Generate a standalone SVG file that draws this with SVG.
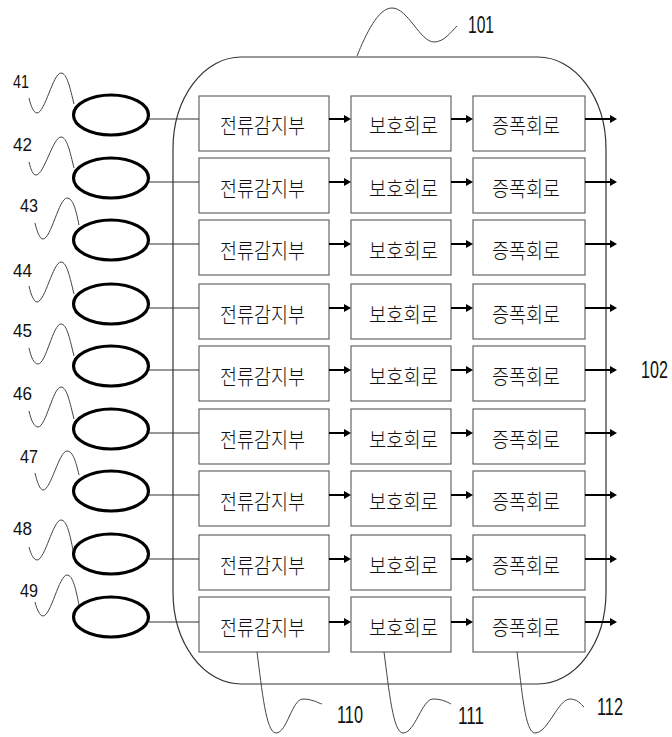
<svg xmlns="http://www.w3.org/2000/svg" width="672" height="737" viewBox="0 0 672 737">
<style>
.bg{fill:#fff}
.cont{fill:none;stroke:#333;stroke-width:1.2}
.box{fill:#fff;stroke:#666;stroke-width:1.2}
.sen{fill:none;stroke:#000;stroke-width:3.2}
.wire{fill:none;stroke:#333;stroke-width:1.2}
.arr{fill:none;stroke:#000;stroke-width:2;marker-end:url(#ah)}
.lead{fill:none;stroke:#444;stroke-width:1}
.kr{font-family:"Noto Sans CJK KR","Noto Sans CJK SC",sans-serif;font-size:21px;font-weight:300;fill:#111}
.num{font-family:"Liberation Sans",Arial,sans-serif;font-size:19px;fill:#111}
.big{font-family:"Liberation Sans",Arial,sans-serif;font-size:23px;fill:#111}
</style>
<defs>
<marker id="ah" markerUnits="userSpaceOnUse" markerWidth="8" markerHeight="10" refX="0" refY="5" orient="auto">
<path d="M0,1 L7,5 L0,9 Z" fill="#000"/>
</marker>
</defs>
<rect class="bg" x="0" y="0" width="672" height="737"/>

<g id="n101">
<rect class="cont" x="173" y="57" width="433" height="627" rx="68" ry="92"/>
<path class="lead" d="M357,56 C366,34 378,8 392,8 C408,8 420,42 434,42 C444,42 451,32 457,26"/>
<text class="big" x="468" y="33" textLength="26" lengthAdjust="spacingAndGlyphs">101</text>
</g>

<g id="n102">
<text class="big" transform="translate(641,378) scale(0.7,1)">102</text>
</g>

<!-- sensors -->
<g id="s41"><ellipse class="sen" cx="111" cy="115" rx="37.5" ry="20"/><path class="lead" d="M29,98 C31,107 34,113 37,113 C45,113 53,73 61,73 C67,73 70,88 74,104"/><text class="num" x="13" y="88" textLength="16" lengthAdjust="spacingAndGlyphs">41</text></g>
<g id="s42"><ellipse class="sen" cx="111" cy="178" rx="37.5" ry="20"/><path class="lead" d="M29,162 C31,170 33,175 36,175 C44,175 53,137 61,137 C67,137 70,152 74,168"/><text class="num" x="13" y="151" textLength="19" lengthAdjust="spacingAndGlyphs">42</text></g>
<g id="s43"><ellipse class="sen" cx="111" cy="240" rx="37.5" ry="20"/><path class="lead" d="M35,223 C37,232 40,239 43,239 C51,239 59,198 67,198 C73,198 76,210 79,225"/><text class="num" x="20" y="212" textLength="18" lengthAdjust="spacingAndGlyphs">43</text></g>
<g id="s44"><ellipse class="sen" cx="111" cy="304" rx="37.5" ry="20"/><path class="lead" d="M29,286 C31,295 34,302 37,302 C45,302 53,262 61,262 C67,262 70,278 74,294"/><text class="num" x="13" y="277" textLength="19" lengthAdjust="spacingAndGlyphs">44</text></g>
<g id="s45"><ellipse class="sen" cx="111" cy="366" rx="37.5" ry="20"/><path class="lead" d="M29,348 C31,357 34,364 38,364 C46,364 53,324 61,324 C67,324 70,340 74,356"/><text class="num" x="13" y="337" textLength="19" lengthAdjust="spacingAndGlyphs">45</text></g>
<g id="s46"><ellipse class="sen" cx="111" cy="429" rx="37.5" ry="20"/><path class="lead" d="M29,411 C31,420 34,427 38,427 C46,427 53,387 61,387 C67,387 70,403 74,419"/><text class="num" x="13" y="400" textLength="19" lengthAdjust="spacingAndGlyphs">46</text></g>
<g id="s47"><ellipse class="sen" cx="111" cy="491" rx="37.5" ry="20"/><path class="lead" d="M35,473 C37,482 40,490 43,490 C51,490 59,451 67,451 C73,451 76,462 79,475"/><text class="num" x="20" y="463" textLength="18" lengthAdjust="spacingAndGlyphs">47</text></g>
<g id="s48"><ellipse class="sen" cx="111" cy="554" rx="37.5" ry="20"/><path class="lead" d="M29,547 C31,555 34,560 37,560 C45,560 53,520 61,520 C67,520 70,535 73,550"/><text class="num" x="13" y="535" textLength="19" lengthAdjust="spacingAndGlyphs">48</text></g>
<g id="s49"><ellipse class="sen" cx="111" cy="617" rx="37.5" ry="20"/><path class="lead" d="M35,602 C37,610 40,616 43,616 C51,616 59,575 67,575 C73,575 76,590 79,605"/><text class="num" x="20" y="597" textLength="18" lengthAdjust="spacingAndGlyphs">49</text></g>

<!-- row boxes -->
<g id="r1a"><rect class="box" x="199" y="96" width="130" height="55"/><text class="kr" x="220" y="133" textLength="85" lengthAdjust="spacingAndGlyphs">전류감지부</text></g>
<g id="r1b"><rect class="box" x="351" y="96" width="100" height="55"/><text class="kr" x="369" y="133" textLength="69" lengthAdjust="spacingAndGlyphs">보호회로</text></g>
<g id="r1c"><rect class="box" x="473" y="96" width="112" height="55"/><text class="kr" x="492" y="133" textLength="68" lengthAdjust="spacingAndGlyphs">증폭회로</text></g>

<g id="r2a"><rect class="box" x="199" y="158" width="130" height="55"/><text class="kr" x="220" y="196" textLength="85" lengthAdjust="spacingAndGlyphs">전류감지부</text></g>
<g id="r2b"><rect class="box" x="351" y="158" width="100" height="55"/><text class="kr" x="369" y="196" textLength="69" lengthAdjust="spacingAndGlyphs">보호회로</text></g>
<g id="r2c"><rect class="box" x="473" y="158" width="112" height="55"/><text class="kr" x="492" y="196" textLength="68" lengthAdjust="spacingAndGlyphs">증폭회로</text></g>

<g id="r3a"><rect class="box" x="199" y="220" width="130" height="55"/><text class="kr" x="220" y="258" textLength="85" lengthAdjust="spacingAndGlyphs">전류감지부</text></g>
<g id="r3b"><rect class="box" x="351" y="220" width="100" height="55"/><text class="kr" x="369" y="258" textLength="69" lengthAdjust="spacingAndGlyphs">보호회로</text></g>
<g id="r3c"><rect class="box" x="473" y="220" width="112" height="55"/><text class="kr" x="492" y="258" textLength="68" lengthAdjust="spacingAndGlyphs">증폭회로</text></g>

<g id="r4a"><rect class="box" x="199" y="284" width="130" height="55"/><text class="kr" x="220" y="322" textLength="85" lengthAdjust="spacingAndGlyphs">전류감지부</text></g>
<g id="r4b"><rect class="box" x="351" y="284" width="100" height="55"/><text class="kr" x="369" y="322" textLength="69" lengthAdjust="spacingAndGlyphs">보호회로</text></g>
<g id="r4c"><rect class="box" x="473" y="284" width="112" height="55"/><text class="kr" x="492" y="322" textLength="68" lengthAdjust="spacingAndGlyphs">증폭회로</text></g>

<g id="r5a"><rect class="box" x="199" y="346" width="130" height="55"/><text class="kr" x="220" y="384" textLength="85" lengthAdjust="spacingAndGlyphs">전류감지부</text></g>
<g id="r5b"><rect class="box" x="351" y="346" width="100" height="55"/><text class="kr" x="369" y="384" textLength="69" lengthAdjust="spacingAndGlyphs">보호회로</text></g>
<g id="r5c"><rect class="box" x="473" y="346" width="112" height="55"/><text class="kr" x="492" y="384" textLength="68" lengthAdjust="spacingAndGlyphs">증폭회로</text></g>

<g id="r6a"><rect class="box" x="199" y="409" width="130" height="55"/><text class="kr" x="220" y="447" textLength="85" lengthAdjust="spacingAndGlyphs">전류감지부</text></g>
<g id="r6b"><rect class="box" x="351" y="409" width="100" height="55"/><text class="kr" x="369" y="447" textLength="69" lengthAdjust="spacingAndGlyphs">보호회로</text></g>
<g id="r6c"><rect class="box" x="473" y="409" width="112" height="55"/><text class="kr" x="492" y="447" textLength="68" lengthAdjust="spacingAndGlyphs">증폭회로</text></g>

<g id="r7a"><rect class="box" x="199" y="471" width="130" height="55"/><text class="kr" x="220" y="509" textLength="85" lengthAdjust="spacingAndGlyphs">전류감지부</text></g>
<g id="r7b"><rect class="box" x="351" y="471" width="100" height="55"/><text class="kr" x="369" y="509" textLength="69" lengthAdjust="spacingAndGlyphs">보호회로</text></g>
<g id="r7c"><rect class="box" x="473" y="471" width="112" height="55"/><text class="kr" x="492" y="509" textLength="68" lengthAdjust="spacingAndGlyphs">증폭회로</text></g>

<g id="r8a"><rect class="box" x="199" y="535" width="130" height="55"/><text class="kr" x="220" y="573" textLength="85" lengthAdjust="spacingAndGlyphs">전류감지부</text></g>
<g id="r8b"><rect class="box" x="351" y="535" width="100" height="55"/><text class="kr" x="369" y="573" textLength="69" lengthAdjust="spacingAndGlyphs">보호회로</text></g>
<g id="r8c"><rect class="box" x="473" y="535" width="112" height="55"/><text class="kr" x="492" y="573" textLength="68" lengthAdjust="spacingAndGlyphs">증폭회로</text></g>

<g id="r9a"><rect class="box" x="199" y="597" width="130" height="55"/><text class="kr" x="220" y="635" textLength="85" lengthAdjust="spacingAndGlyphs">전류감지부</text></g>
<g id="r9b"><rect class="box" x="351" y="597" width="100" height="55"/><text class="kr" x="369" y="635" textLength="69" lengthAdjust="spacingAndGlyphs">보호회로</text></g>
<g id="r9c"><rect class="box" x="473" y="597" width="112" height="55"/><text class="kr" x="492" y="635" textLength="68" lengthAdjust="spacingAndGlyphs">증폭회로</text></g>

<g id="n110">
<path class="lead" d="M257,652 C262,690 266,733 276,733 C287,733 292,699 303,699 C312,699 318,703 322,704"/>
<text class="big" x="337" y="723" textLength="26" lengthAdjust="spacingAndGlyphs">110</text>
</g>
<g id="n111">
<path class="lead" d="M384,652 C389,690 393,733 403,733 C415,733 422,699 433,699 C442,699 447,702 451,704"/>
<text class="big" x="458" y="724" textLength="26" lengthAdjust="spacingAndGlyphs">111</text>
</g>
<g id="n112">
<path class="lead" d="M517,652 C522,690 525,733 535,733 C548,733 558,699 570,699 C577,699 581,704 584,707"/>
<text class="big" x="597" y="715" textLength="26" lengthAdjust="spacingAndGlyphs">112</text>
</g>

<g id="connectors">
<path class="wire" d="M149,119H199 M149,182H199 M149,244H199 M149,308H199 M149,370H199 M149,433H199 M149,495H199 M149,559H199 M149,622H199"/>
<path class="arr" d="M329,119H344"/><path class="arr" d="M451,119H466"/><path class="arr" d="M585,119H610"/>
<path class="arr" d="M329,182H344"/><path class="arr" d="M451,182H466"/><path class="arr" d="M585,182H610"/>
<path class="arr" d="M329,244H344"/><path class="arr" d="M451,244H466"/><path class="arr" d="M585,244H610"/>
<path class="arr" d="M329,308H344"/><path class="arr" d="M451,308H466"/><path class="arr" d="M585,308H610"/>
<path class="arr" d="M329,370H344"/><path class="arr" d="M451,370H466"/><path class="arr" d="M585,370H610"/>
<path class="arr" d="M329,433H344"/><path class="arr" d="M451,433H466"/><path class="arr" d="M585,433H610"/>
<path class="arr" d="M329,495H344"/><path class="arr" d="M451,495H466"/><path class="arr" d="M585,495H610"/>
<path class="arr" d="M329,559H344"/><path class="arr" d="M451,559H466"/><path class="arr" d="M585,559H610"/>
<path class="arr" d="M329,622H344"/><path class="arr" d="M451,622H466"/><path class="arr" d="M585,622H610"/>
</g>
</svg>
